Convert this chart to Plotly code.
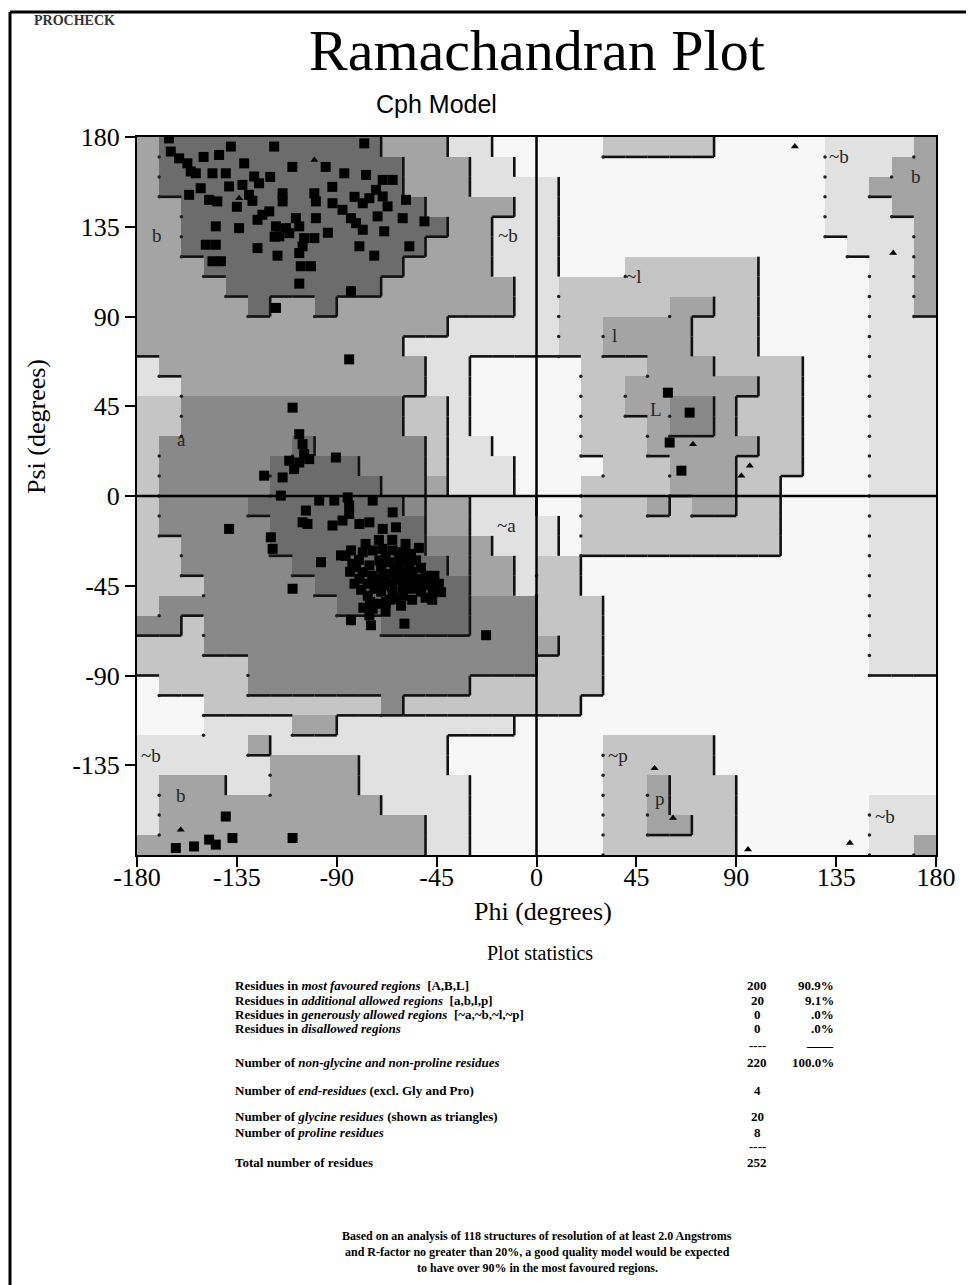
import plotly.graph_objects as go

# ---------------- data ----------------
# Region shading on a 10-degree grid. Row 0 = psi 170..180 (top), col 0 = phi -180..-170.
# 0 = disallowed (white) ... 5 = darkest core
REGION_ROWS = [
    "355555555553331100000222220000011113",
    "355555555555333110000000000000011133",
    "355555555555333111100000000000011333",
    "335555555555533331100000000000011133",
    "335555555555553311100000000000011113",
    "335555555555533311100000000000001113",
    "333555555555333311100022222200000113",
    "333355555553333331122222222200000113",
    "333335335333333331122222332200000113",
    "333333333333331111122333322200000111",
    "333333333333111111122333322200000111",
    "133333333333311000002223332222000111",
    "113333333333311000002233333322000111",
    "224444444444221000002233443222000111",
    "224444444444221000002223443222000111",
    "244444454444421100002223333322000111",
    "244444555544421110000222333222000111",
    "244444555554431110002222333220000111",
    "244445555555433111002223233220000111",
    "244444555555533111102222222220000111",
    "224444555555544311102222222220000111",
    "224444455555554331220000000000000111",
    "222444445555555331220000000000000111",
    "244444444555555444222000000000000111",
    "442444444445555444222000000000000111",
    "222444444444444444322000000000000111",
    "222224444444444444222000000000000111",
    "022224444444444222222000000000000000",
    "000222222224222222220000000000000000",
    "000111133111111110000000000000000000",
    "111113111111110000000222220000000000",
    "111111333311110000000222220000000000",
    "133311333311111000000223222000000000",
    "133333333331111000000223222000000111",
    "133333333333311000000223322000000111",
    "333333333333311000000222222000000113",
]
LEVEL_COLORS = ["#f7f7f7", "#e1e1e1", "#c5c5c5", "#a4a4a4", "#898989", "#6c6c6c"]

# non-glycine residues (squares)
RES_PHI = [
    -165.6, -164.8, -161.0, -157.3, -137.7, -118.2, -77.6, -143.0, -131.7, -155.8,
    -153.5, -146.0, -140.0, -127.2, -125.0, -138.5, -132.5, -151.3, -156.5, -147.5,
    -143.8, -129.5, -114.4, -114.4, -100.1, -99.4, -86.6, -76.8, -69.3, -64.8,
    -72.3, -75.3, -78.3, -91.9, -87.4, -83.6, -81.3, -78.3, -69.3, -67.1,
    -58.8, -60.3, -50.5, -71.6, -123.5, -120.4, -125.7, -117.4, -112.9, -108.4,
    -99.4, -106.9, -115.9, -111.4, -104.7, -100.1, -144.5, -134.0, -149.0, -144.5,
    -125.7, -116.7, -106.9, -105.4, -79.8, -73.1, -68.6, -57.3, -146.0, -142.2,
    -106.2, -101.6, -106.9, -83.6, -117.4, -84.4,
    -128.0, -120.0, -110.0, -95.0, -150.0, -135.0, -118.0, -92.0, -82.0, -94.0,
    -109.9, -106.9, -105.4, -104.7, -106.9, -111.4, -109.2, -102.4, -90.4, -122.7, -114.4,
    -115.2, -97.9, -91.1, -85.1, -84.4, -103.9, -105.4, -103.2, -91.9, -87.4,
    -84.4, -79.8, -75.3, -69.3, -63.3, -64.8, -73.8, -138.5, -119.7, -118.9,
    -97.1, -88.1, -83.6, -78.3, -73.8, -69.3, -64.8, -60.3, -56.5, -81.3,
    -78.3, -75.3, -70.8, -66.3, -61.8, -57.3, -54.3, -79.8, -72.3, -67.8,
    -63.3, -58.8, -54.3, -51.3, -46.8, -43.0, -55.8, -60.3, -64.8, -69.3,
    -73.1, -76.1, -67.8, -63.3, -73.8, -75.3, -83.6, -74.6, -59.5, -109.9, -22.7,
    -70.0, -66.0, -62.0, -58.0, -68.0, -62.0, -74.0, -80.0, -56.0, -52.0,
    -50.0, -60.0, -66.0, -70.0, -76.0, -64.0, -72.0, -54.0, -48.0, -46.0,
    -58.0, -84.0, -86.0, -82.0, -78.0, -68.0,
    -77.0, -71.0, -65.0, -59.0, -53.0, -79.0, -75.0, -71.0, -61.0, -56.0,
    -50.0, -47.0, -44.0, -65.0, -69.0, -61.0, -57.0, -52.0, -83.0,
    -140.0, -137.0, -147.5, -144.5, -154.3, -162.5, -109.9,
    59.2, 69.0, 60.0, 65.3,
]
RES_PSI = [
    179.3, 172.7, 169.3, 166.8, 175.2, 175.2, 176.8, 171.0, 166.8, 162.7,
    161.8, 161.8, 161.8, 160.2, 156.8, 155.2, 156.0, 154.3, 151.0, 148.5,
    147.7, 151.0, 151.8, 147.7, 151.8, 147.7, 161.8, 161.0, 158.5, 158.5,
    153.5, 149.3, 146.8, 146.8, 143.5, 139.3, 136.8, 133.5, 150.2, 145.2,
    148.5, 139.3, 137.7, 140.2, 141.0, 142.7, 138.5, 135.2, 134.3, 139.3,
    139.3, 135.2, 130.2, 131.8, 129.3, 129.3, 135.2, 134.3, 126.0, 126.0,
    124.3, 120.5, 121.8, 125.2, 125.2, 120.5, 132.7, 125.2, 117.7, 117.7,
    115.2, 115.2, 106.5, 102.7, 94.3, 68.5,
    148.0, 160.0, 165.0, 165.0, 170.0, 145.0, 130.0, 155.0, 150.0, 132.0,
    44.3, 31.0, 26.0, 21.0, 16.8, 17.7, 13.5, 18.5, 19.3, 10.2, 9.3,
    0.2, -2.3, -2.3, -0.7, -4.8, -7.3, -13.2, -14.0, -14.8, -12.3,
    -9.0, -14.0, -13.2, -16.5, -15.7, -8.2, -2.3, -16.5, -20.7, -26.5,
    -33.2, -29.8, -27.3, -28.2, -27.3, -26.5, -27.3, -28.2, -29.0, -35.7,
    -38.2, -34.8, -32.3, -33.2, -34.0, -34.8, -32.3, -41.5, -41.5, -39.0,
    -39.8, -38.2, -41.5, -44.8, -47.3, -48.2, -46.5, -46.5, -48.2, -44.8,
    -46.5, -44.0, -53.2, -51.5, -56.5, -59.8, -62.3, -64.8, -64.0, -46.5, -69.8,
    -36.0, -44.0, -42.0, -42.0, -30.0, -30.0, -40.0, -32.0, -38.0, -36.0,
    -40.0, -50.0, -52.0, -48.0, -50.0, -36.0, -44.0, -46.0, -44.0, -40.0,
    -32.0, -38.0, -30.0, -44.0, -56.0, -58.0,
    -24.0, -22.0, -22.0, -24.0, -26.0, -47.0, -53.0, -54.0, -55.0, -52.0,
    -51.0, -52.0, -44.0, -46.0, -40.0, -38.0, -45.0, -48.0, -34.0,
    -160.7, -171.5, -172.3, -174.8, -175.7, -176.5, -171.5,
    51.8, 41.8, 26.8, 12.7,
]
# glycine residues (triangles)
GLY_PHI = [116.4, 160.7, 70.5, 96.1, 92.3, 53.2, 61.5, 95.3, 141.2, -160.3, -100.1, -134.0]
GLY_PSI = [175.2, 121.8, 26.0, 15.2, 10.2, -136.5, -161.5, -177.3, -174.0, -167.3, 168.5, 149.3]

X_TICKS = [-180, -135, -90, -45, 0, 45, 90, 135, 180]
Y_TICKS = [-135, -90, -45, 0, 45, 90, 135, 180]

REGION_LABELS = ["b", "~b", "a", "~a", "~b", "b", "~l", "l", "L", "~b", "b", "~p", "p", "~b"]
LABEL_PHI = [-171.0, -13.0, -160.0, -13.5, -173.5, -160.0, 44.0, 35.0, 54.0, 136.5, 171.0, 36.5, 55.5, 157.0]
LABEL_PSI = [130.5, 130.5, 28.5, -15.0, -130.0, -150.0, 110.0, 80.5, 43.5, 170.0, 160.0, -130.0, -151.5, -160.5]

STAT_TEXT = [
    "Residues in <i>most favoured regions</i>  [A,B,L]",
    "Residues in <i>additional allowed regions</i>  [a,b,l,p]",
    "Residues in <i>generously allowed regions</i>  [~a,~b,~l,~p]",
    "Residues in <i>disallowed regions</i>",
    "",
    "Number of <i>non-glycine and non-proline residues</i>",
    "Number of <i>end-residues</i> (excl. Gly and Pro)",
    "Number of <i>glycine residues</i> (shown as triangles)",
    "Number of <i>proline residues</i>",
    "",
    "Total number of residues",
]
STAT_COUNT = ["200", "20", "0", "0", "----", "220", "4", "20", "8", "----", "252"]
STAT_PCT = ["90.9%", "9.1%", ".0%", ".0%", "\u2014\u2014", "100.0%", "", "", "", "", ""]
STAT_Y = [985, 1000, 1014, 1029, 1045, 1062, 1090, 1116, 1132, 1146, 1162]

NOTE_LINES = [
    "Based on an analysis of 118 structures of resolution of at least 2.0 Angstroms",
    "and R-factor no greater than 20%, a good quality model would be expected",
    "to have over 90% in the most favoured regions.",
]

# ---------------- figure ----------------
OFF = 8                      # page body margin of the HTML output
W, H = 974 - OFF, 1285 - OFF
ML, MT = 137 - OFF, 137 - OFF
MR = W - (936 - OFF)
MB = H - (855 - OFF)
PW, PH = W - ML - MR, H - MT - MB


def px(x):
    """reference-image pixel x -> paper coordinate"""
    return (x - OFF - ML) / PW


def py(y):
    """reference-image pixel y -> paper coordinate"""
    return (H - MB - (y - OFF)) / PH


grid = [[int(ch) for ch in row] for row in REGION_ROWS]
for row in grid:
    assert len(row) == 36, len(row)
assert len(grid) == 36

n = len(LEVEL_COLORS)
cscale = []
for i, col in enumerate(LEVEL_COLORS):
    cscale.append([i / n, col])
    cscale.append([(i + 1) / n, col])

fig = go.Figure()
fig.add_trace(go.Heatmap(
    z=grid,
    x=[-175 + 10 * c for c in range(36)],
    y=[175 - 10 * r for r in range(36)],
    colorscale=cscale, zmin=-0.5, zmax=n - 0.5,
    showscale=False, hoverinfo="skip",
))

# region boundary lines: solid on right/bottom edges of darker regions, dots on left edges
sx, sy, dx, dy = [], [], [], []
for r in range(36):
    top = 180 - 10 * r
    bot = top - 10
    for c in range(35):
        a, b = grid[r][c], grid[r][c + 1]
        xl = -180 + 10 * (c + 1)
        if a > b:
            sx += [xl, xl, None]
            sy += [top, bot, None]
        elif a < b:
            dx.append(xl)
            dy.append(bot)
for r in range(35):
    yl = 180 - 10 * (r + 1)
    for c in range(36):
        a, b = grid[r][c], grid[r + 1][c]
        if a > b:
            x0 = -180 + 10 * c
            sx += [x0, x0 + 10, None]
            sy += [yl, yl, None]

fig.add_trace(go.Scatter(x=sx, y=sy, mode="lines", line=dict(color="#111111", width=2.6),
                         hoverinfo="skip", showlegend=False))
fig.add_trace(go.Scatter(x=dx, y=dy, mode="markers", marker=dict(color="#222222", size=3.5),
                         hoverinfo="skip", showlegend=False))

fig.add_trace(go.Scatter(x=RES_PHI, y=RES_PSI, mode="markers",
                         marker=dict(symbol="square", size=10, color="black"),
                         showlegend=False))
fig.add_trace(go.Scatter(x=GLY_PHI, y=GLY_PSI, mode="markers",
                         marker=dict(symbol="triangle-up", size=7, color="black"),
                         showlegend=False))

annotations = []
for t, xv, yv in zip(REGION_LABELS, LABEL_PHI, LABEL_PSI):
    annotations.append(dict(x=xv, y=yv, xref="x", yref="y", text=t, showarrow=False,
                            font=dict(family="Liberation Serif", size=19, color="#262626")))

serif = "Liberation Serif"


def ann(x, y, text, size, family=serif, xanchor="center", color="black", textangle=0):
    annotations.append(dict(x=px(x), y=py(y), xref="paper", yref="paper", text=text,
                            showarrow=False, xanchor=xanchor, yanchor="middle",
                            textangle=textangle,
                            font=dict(family=family, size=size, color=color)))


ann(32, 20, "<b>PROCHECK</b>", 14, xanchor="left", color="#333333")
ann(537, 50, "Ramachandran Plot", 58)
ann(436, 104, "Cph Model", 25, family="Liberation Sans Narrow, Liberation Sans, Arial")
ann(543, 912, "Phi (degrees)", 26)
ann(36, 427, "Psi (degrees)", 26, textangle=-90)
ann(540, 953, "Plot statistics", 20)

for t, cnt, pct, yv in zip(STAT_TEXT, STAT_COUNT, STAT_PCT, STAT_Y):
    if t:
        ann(233, yv, "<b>" + t + "</b>", 13, xanchor="left")
    if cnt:
        ann(757, yv, "<b>" + cnt + "</b>", 13)
    if pct:
        ann(836, yv, "<b>" + pct + "</b>", 13, xanchor="right")

for i, line in enumerate(NOTE_LINES):
    ann(537, 1236 + 16 * i, "<b>" + line + "</b>", 12)

axis_common = dict(range=[-180, 180], showgrid=False, zeroline=False, showline=True,
                   mirror=True, linewidth=2, linecolor="black", ticks="outside",
                   ticklen=10, tickwidth=2, tickcolor="black",
                   tickfont=dict(family=serif, size=26, color="black"),
                   fixedrange=True)

fig.update_layout(
    width=W, height=H, autosize=False,
    margin=dict(l=ML, r=MR, t=MT, b=MB, pad=0),
    paper_bgcolor="white", plot_bgcolor="#f7f7f7",
    xaxis=dict(tickvals=X_TICKS, ticktext=[str(v) for v in X_TICKS],
               ticklabelstandoff=-12, **axis_common),
    yaxis=dict(tickvals=Y_TICKS, ticktext=[str(v) for v in Y_TICKS], **axis_common),
    annotations=annotations,
    shapes=[
        dict(type="line", xref="x", yref="y", x0=0, x1=0, y0=-180, y1=180,
             line=dict(color="black", width=2.5)),
        dict(type="line", xref="x", yref="y", x0=-180, x1=180, y0=0, y1=0,
             line=dict(color="black", width=2.5)),
        dict(type="line", xref="paper", yref="paper", x0=px(10), x1=px(10),
             y0=py(12), y1=py(1290), line=dict(color="black", width=3)),
        dict(type="line", xref="paper", yref="paper", x0=px(10), x1=px(980),
             y0=py(12), y1=py(12), line=dict(color="black", width=3)),
    ],
    showlegend=False,
)

fig.write_html("out.html")
